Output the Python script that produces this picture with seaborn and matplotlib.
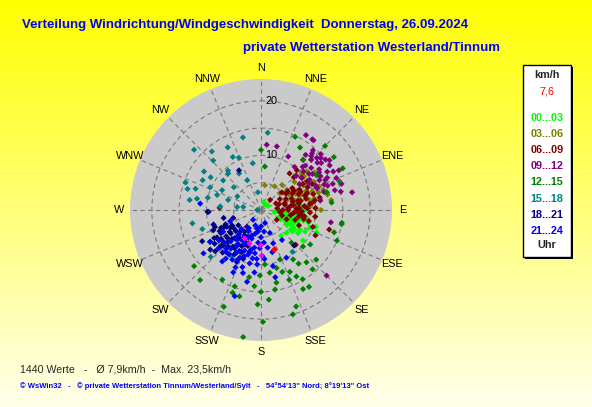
import numpy as np
import pandas as pd
import matplotlib
matplotlib.use('Agg')
import matplotlib.pyplot as plt
from matplotlib.patches import Rectangle
import seaborn as sns

sns.set_style('white')
plt.rcParams['font.family'] = ['Liberation Sans', 'DejaVu Sans']

# Stundengruppen und Farben
gruppen = ['00...03', '03...06', '06...09', '09...12', '12...15', '15...18', '18...21', '21...24']
farben = ['#00ff00', '#808000', '#800000', '#800080', '#008000', '#008080', '#000080', '#0000ff']

# Richtung (Grad) / Geschwindigkeit (km/h)
dir_00 = [92, 98, 104, 110, 115, 120, 95, 100, 106, 112, 118, 124, 88, 96, 102, 108, 114, 100, 105, 110,
          116, 122, 94, 99, 103, 109, 113, 118, 126, 90, 60, 40, 20, 97, 107, 112, 131, 142, 85, 80,
          93, 101, 107, 113, 119, 96, 104, 111, 117, 123, 99, 115]
kmh_00 = [3, 3.5, 4, 4.5, 5, 5.5, 6, 6.5, 7, 7.5, 8, 7, 5, 5, 5.5, 6, 6, 8.5, 9, 9.5,
          9, 8, 4, 2.5, 7, 5, 3.5, 6.5, 9.5, 8, 1.5, 1.2, 1.5, 10, 10.5, 11, 6.3, 6, 7.5, 6.5,
          4.5, 4.5, 6.5, 5.5, 7, 7, 8, 6.5, 8, 6.5, 5.5, 4]

dir_03 = [9, 30, 40, 45, 48, 50, 52, 55, 58, 60, 62, 65, 68, 70, 72, 75, 78, 80, 82, 85,
          88, 90, 55, 60, 65, 70, 75, 45, 50, 58, 62, 68, 73, 80, 86, 95, 100,
          52, 57, 63, 67, 73, 78, 83, 48, 61, 70, 77]
kmh_03 = [4.6, 5, 6, 13, 4.6, 8, 10, 12, 7, 9, 11, 6, 8, 10, 12, 7, 9, 11, 13, 8,
          10, 11, 5.5, 6, 7, 5, 6.5, 9, 11, 9.5, 7.5, 11.5, 8.5, 6, 9, 7, 8,
          6, 8.5, 10.5, 9, 11, 10, 7, 10, 12.5, 7.5, 12.5]

dir_06 = [42, 50, 55, 60, 65, 70, 75, 80, 85, 90, 95, 100, 105, 110, 45, 52, 58, 63, 68, 73,
          78, 83, 88, 93, 98, 103, 108, 60, 66, 72, 78, 84, 90, 96, 55, 62, 70, 76, 82, 88,
          38, 42, 97, 106, 122, 273, 115, 135,
          57, 62, 67, 72, 77, 82, 87, 92, 97, 102, 58, 64, 70, 76, 82, 88, 94, 100, 106, 112,
          66, 74, 86, 92, 80]
kmh_06 = [2.5, 5, 6, 7, 8, 9, 6, 7, 8, 5, 6, 7, 4, 5, 8.5, 9.5, 10, 10.5, 11, 10,
          11, 9, 10, 9, 8, 9, 10, 4, 5, 3.5, 4.5, 3, 4, 3.5, 7, 8, 6, 8.5, 5.5, 6.5,
          8.5, 9.8, 10, 13, 3.4, 7.6, 11, 9,
          5.5, 6.5, 7.5, 8.5, 7.5, 6, 7, 6.5, 7.5, 8, 9, 9.5, 9, 7, 9.5, 8.5, 7, 5.5, 6.5, 7.5,
          3, 4.5, 5, 7.5, 10]

dir_09 = [5, 14, 27, 31, 36, 37, 40, 42, 45, 47, 50, 52, 55, 57, 60, 62, 65, 67, 70, 72,
          75, 79, 81, 100, 135, 38, 44, 48, 53, 58, 63, 68, 46, 51, 56, 61, 66, 43, 49, 54,
          39, 45, 50, 55, 60, 64, 69, 74, 41, 47, 52, 57, 63, 70, 77]
kmh_09 = [12, 12, 11, 16, 16, 16, 12, 14, 13, 15, 12, 14, 13, 12.7, 14, 15, 13, 15, 14, 15.5,
          14, 17, 11, 13, 17, 10, 11, 10.5, 11, 10.5, 12, 12.5, 9, 9.5, 8.5, 10, 11, 13.5, 14.5, 15.5,
          13, 11.5, 13.5, 11.5, 12.5, 13.5, 11, 12, 14.5, 14, 15, 15, 16, 13, 15]

dir_12 = [25, 32, 45, 54, 63, 70, 100, 84, 0, 5, 40, 58, 75,
          107, 99, 112, 139, 139, 152, 158, 161, 152, 160,
          163, 170, 179, 182, 188, 201, 199, 209, 221, 230,
          172, 176, 159, 147, 132, 149, 168, 180, 137, 131,
          148, 181, 194, 199, 165, 155, 145, 185, 190, 175, 125]
kmh_12 = [14.8, 13.5, 16.6, 16.5, 16.8, 15.3, 15, 13, 11, 8, 12, 12, 12.5,
          14, 15, 15, 14.4, 12.7, 13.8, 13.8, 12, 16.4, 18.8,
          20, 14.8, 20.5, 17.3, 23.5, 19, 16, 14.6, 17, 16,
          11.6, 10, 9.7, 10.8, 13.6, 14.8, 13.6, 15, 8.2, 10.2,
          16.6, 12, 16.3, 14.8, 11, 12.5, 12, 14, 12.5, 16.5, 11]

dir_15 = [346, 332, 312, 320, 316, 332, 337, 304, 303, 297, 290, 286, 288, 278, 280, 294, 289, 308, 318, 320,
          329, 335, 350, 350, 287, 277, 280, 297, 283, 259, 252, 227, 213, 5, 143, 270, 222, 230, 218, 300,
          310, 275]
kmh_15 = [13.7, 13, 16.5, 14, 12.6, 11, 10.4, 12.6, 11, 12, 14.7, 14, 12.6, 13.2, 11.9, 10.2, 8.5, 8.8, 9, 9.4,
          7.8, 6, 8.7, 3.3, 6.3, 4.4, 3.3, 8, 10, 12.8, 11.3, 12.6, 10, 14.2, 9.6, 0.7, 7, 6, 8.5, 5,
          6.5, 7.5]

dir_18 = [268, 253, 242, 232, 228, 254, 137, 331, 268, 215, 220, 225, 230, 235, 240, 245, 210, 205, 200, 215,
          222, 228, 234, 240, 246, 212, 218, 224, 230, 236, 242, 248, 205, 210, 216, 222, 228, 234, 195, 200,
          205, 220, 238, 250, 258,
          208, 214, 219, 226, 232, 238, 244, 211, 217, 223, 229, 236, 243, 207, 213, 221, 227, 233, 239, 247]
kmh_18 = [9.6, 9.1, 12.2, 11.8, 11.3, 5.3, 8.9, 8.3, 9.8, 6.5, 7, 7.5, 8, 7, 6.5, 7.5, 6, 5.5, 7, 8.5,
          9, 9.5, 9, 8.5, 8, 4.5, 5, 5.5, 6, 5, 6, 7, 8.5, 9, 10, 10.5, 10, 10.5, 8, 9.5,
          10.5, 4, 11, 9, 7,
          7.5, 8, 6.5, 8.5, 7, 9.5, 7, 9.5, 8.5, 7, 9, 6, 8.5, 6.5, 5.5, 6.5, 9.5, 8, 10, 9.5]

dir_21 = [159, 145, 152, 168, 191, 197, 233, 276, 238, 217, 163, 219, 180, 185, 190, 195, 200, 205, 210, 215,
          220, 175, 170, 165, 160, 185, 192, 198, 204, 210, 216, 222, 228, 188, 194, 200, 206, 212, 180, 172,
          186, 200, 214, 226, 196, 204, 176, 168, 240, 250,
          182, 188, 194, 200, 206, 212, 218, 224, 184, 190, 196, 202, 208, 214, 220, 186, 198, 210, 222, 178,
          192, 204, 216, 228, 234]
kmh_21 = [4.5, 6.7, 9.9, 12.6, 13.4, 16.5, 13.2, 11.2, 11, 11.8, 2.5, 2.3, 5, 6, 7, 8, 9, 10, 9, 8,
          7, 6, 7, 8, 6.5, 9, 10, 11, 11.5, 10.5, 10, 9.5, 9, 4, 4.5, 5, 5.5, 6, 3, 4,
          3.5, 3, 4, 5, 12, 12.5, 9, 10.5, 8, 6,
          7, 8, 7.5, 6.5, 7, 6.5, 9, 8, 10, 9, 8.5, 8, 8.5, 7.5, 10, 11.5, 5.5, 4.5, 6, 8.5,
          3.5, 9.5, 11, 10.5, 9.5]

# letzte Werte (magenta) und aktueller Wert (rot)
dir_letzte = [211, 182, 180, 200]
kmh_letzte = [6, 6.4, 8.2, 6.4]
dir_aktuell = [162]
kmh_aktuell = [7.6]

richtungen = ['N', 'NNE', 'NE', 'ENE', 'E', 'ESE', 'SE', 'SSE', 'S', 'SSW', 'SW', 'WSW', 'W', 'WNW', 'NW', 'NNW']

alle_dir = [dir_00, dir_03, dir_06, dir_09, dir_12, dir_15, dir_18, dir_21]
alle_kmh = [kmh_00, kmh_03, kmh_06, kmh_09, kmh_12, kmh_15, kmh_18, kmh_21]
rows = []
for g, dd, kk in zip(gruppen, alle_dir, alle_kmh):
    for d, k in zip(dd, kk):
        rows.append((g, d, k))
df = pd.DataFrame(rows, columns=['gruppe', 'richtung', 'kmh'])
df['theta'] = np.deg2rad(df['richtung'])

fig = plt.figure(figsize=(5.92, 4.07), dpi=100)

# Hintergrund mit Verlauf
bg = fig.add_axes([0, 0, 1, 1], zorder=0)
verlauf = np.zeros((256, 1, 3))
verlauf[..., 0] = 1
verlauf[..., 1] = 1
verlauf[..., 2] = np.linspace(0, 0.92, 256)[:, None]
bg.imshow(verlauf, aspect='auto', extent=[0, 592, 407, 0])
bg.set_xlim(0, 592)
bg.set_ylim(407, 0)
bg.axis('off')

ax = fig.add_axes([130 / 592, 66 / 407, 262 / 592, 262 / 407], projection='polar', zorder=1)
ax.set_facecolor('#cacaca')
ax.set_theta_zero_location('N')
ax.set_theta_direction(-1)
sns.scatterplot(data=df, x='theta', y='kmh', hue='gruppe', palette=dict(zip(gruppen, farben)),
                marker='D', s=10, linewidth=0, legend=False, ax=ax, zorder=3)
sns.scatterplot(x=np.deg2rad(dir_letzte), y=kmh_letzte, color='#ff00ff', marker='D', s=10,
                linewidth=0, ax=ax, zorder=4)
sns.scatterplot(x=np.deg2rad(dir_aktuell), y=kmh_aktuell, color='#ff0000', marker='D', s=12,
                linewidth=0, ax=ax, zorder=5)
ax.set_ylim(0, 24)
ax.set_xticks(np.deg2rad(np.arange(0, 360, 22.5)))
ax.set_xticklabels([])
ax.set_yticks([5, 10, 15, 20])
ax.set_yticklabels([])
ax.grid(True, color='#7a7a7a', linestyle=(0, (4, 3)), linewidth=0.8)
ax.spines['polar'].set_visible(False)
ax.set_xlabel('')
ax.set_ylabel('')

for i, name in enumerate(richtungen):
    ax.text(np.deg2rad(i * 22.5), 26, name, ha='center', va='center', fontsize=7.8, color='black')
for r in [10, 20]:
    ax.annotate(str(r), xy=(0, r), xytext=(3, 0), textcoords='offset points',
                ha='left', va='center', fontsize=7.8, color='black')

# Titel
bg.text(22, 25, 'Verteilung Windrichtung/Windgeschwindigkeit  Donnerstag, 26.09.2024',
        color='#0000ff', fontweight='bold', fontsize=9.5, va='center', ha='left')
bg.text(243, 48, 'private Wetterstation Westerland/Tinnum',
        color='#0000ff', fontweight='bold', fontsize=9.5, va='center', ha='left')

# Fusszeilen
bg.text(20, 369, '1440 Werte   -   Ø 7,9km/h  -  Max. 23,5km/h', fontsize=7.7, va='center', ha='left')
bg.text(20, 386, '© WsWin32   -   © private Wetterstation Tinnum/Westerland/Sylt   -   54°54\'13" Nord; 8°19\'13" Ost',
        fontsize=5.5, color='#0000ff', fontweight='bold', va='center', ha='left')

# Legendenkasten
bg.add_patch(Rectangle((525, 67), 48, 192, facecolor='black', edgecolor='none', zorder=2))
bg.add_patch(Rectangle((523, 65), 48, 192, facecolor='white', edgecolor='black', linewidth=1, zorder=3))
bg.text(547, 75, 'km/h', fontsize=7.8, fontweight='bold', ha='center', va='center', zorder=4)
bg.text(547, 92, '7,6', fontsize=7.8, color='#ff0000', ha='center', va='center', zorder=4)
for i, (g, f) in enumerate(zip(gruppen, farben)):
    bg.text(547, 118 + i * 16.1, g, fontsize=7.8, fontweight='bold', color=f,
            ha='center', va='center', zorder=4)
bg.text(547, 245, 'Uhr', fontsize=7.8, fontweight='bold', ha='center', va='center', zorder=4)

fig.savefig('out.png', dpi=100)
